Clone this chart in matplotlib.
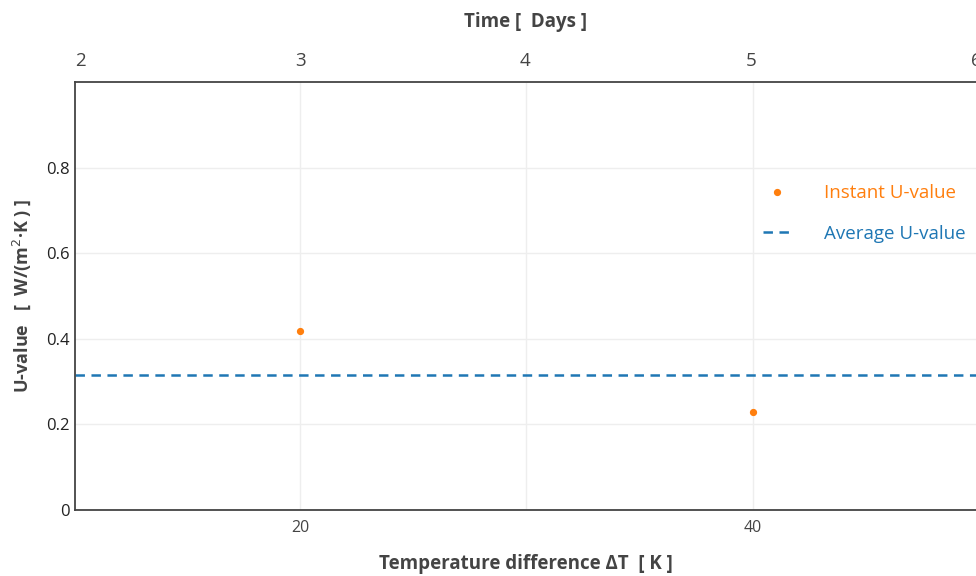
import matplotlib
matplotlib.use("Agg")
import matplotlib.pyplot as plt

plt.rcParams['font.family'] = ['Open Sans', 'DejaVu Sans']
plt.rcParams['lines.scale_dashes'] = False

# data
delta_t = [20, 40]
u_instant = [0.418, 0.228]
u_average = 0.315
day_ticks = [2, 3, 4, 5, 6]

orange = '#ff7f0e'
blue = '#1f77b4'
grey = '#444444'
grid = '#eeeeee'

fig = plt.figure(figsize=(9.76, 5.76), dpi=100)
ax = fig.add_axes([75/976, 1-510/576, 1-75/976, (510-82)/576])

ax.set_xlim(10.07, 49.85)
ax.set_ylim(0, 1.0)

ax.plot(delta_t, u_instant, 'o', color=orange, markersize=4.2, label='Instant U-value', zorder=3)
ax.axhline(u_average, color=blue, linewidth=1.8, dashes=(6.8, 4.7), label='Average U-value', zorder=2)

ax.set_xticks([20, 30, 40], labels=['20', '', '40'])
ax.set_yticks([0, 0.2, 0.4, 0.6, 0.8], labels=['0', '0.2', '0.4', '0.6', '0.8'])
ax.grid(True, color=grid, linewidth=1)
ax.set_axisbelow(True)
ax.tick_params(axis='x', length=0, labelsize=11.5, labelcolor=grey, pad=7)
ax.tick_params(axis='y', length=0, labelsize=12, labelcolor='#222222', pad=4)

for side in ['left', 'bottom', 'top']:
    ax.spines[side].set_color(grey)
    ax.spines[side].set_linewidth(1.3)
ax.spines['right'].set_visible(False)

ax.set_xlabel('Temperature difference ΔT  [ K ]', fontsize=13.5, fontweight='bold', color=grey, labelpad=13)
ax.set_ylabel('U-value   [  W/(m$^2$·K ) ]', fontsize=13, fontweight='bold', color=grey, labelpad=9)

top = ax.twiny()
top.set_xlim(2.0, 6.0)
top.set_xticks(day_ticks)
top.tick_params(axis='x', length=0, labelsize=13.5, labelcolor=grey, pad=9)
top.get_xticklabels()[0].set_horizontalalignment('left')
for side in ['left', 'bottom', 'top', 'right']:
    top.spines[side].set_visible(False)
top.set_xlabel('Time [  Days ]', fontsize=13.5, fontweight='bold', color=grey, labelpad=18)

leg = ax.legend(loc='upper left', bbox_to_anchor=(0.745, 0.80), frameon=False,
                fontsize=13.5, handlelength=1.45, handletextpad=1.8, labelspacing=1.2)
for text, c in zip(leg.get_texts(), [orange, blue]):
    text.set_color(c)

fig.savefig('out.png', dpi=100)
